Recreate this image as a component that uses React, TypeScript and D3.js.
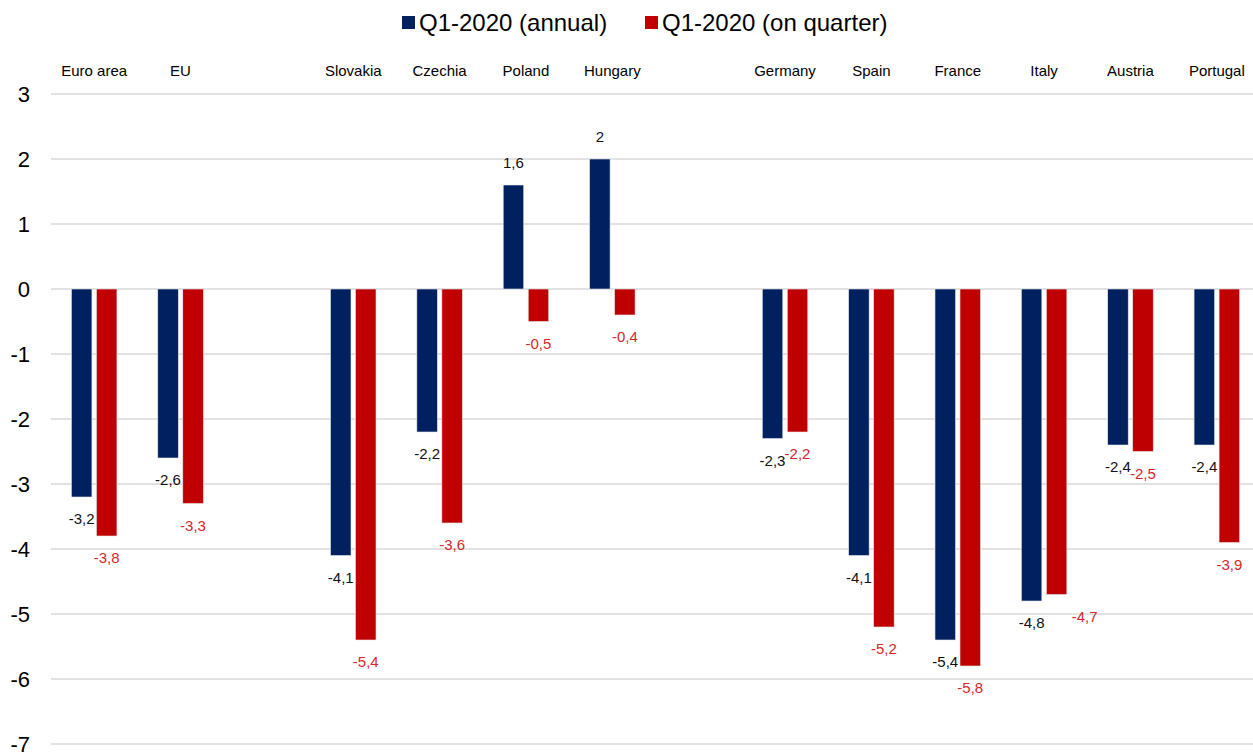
import React from "react";
import * as d3 from "d3";

const categories = [
  "Euro area", "EU",
  "Slovakia", "Czechia", "Poland", "Hungary",
  "Germany", "Spain", "France", "Italy", "Austria", "Portugal",
];
// a blank slot is left before these categories
const gapBefore = ["Slovakia", "Germany"];
const annual = [-3.2, -2.6, -4.1, -2.2, 1.6, 2, -2.3, -4.1, -5.4, -4.8, -2.4, -2.4];
const onQuarter = [-3.8, -3.3, -5.4, -3.6, -0.5, -0.4, -2.2, -5.2, -5.8, -4.7, -2.5, -3.9];
const seriesNames = ["Q1-2020 (annual)", "Q1-2020 (on quarter)"];
const yTicks = [3, 2, 1, 0, -1, -2, -3, -4, -5, -6, -7];

const W = 1253;
const H = 754;
const FONT = "'Liberation Sans', Arial, Helvetica, sans-serif";
const BLUE = "#002060";
const RED = "#c00000";
const RED_LABEL = "#d7262b";

const locale = d3.formatLocale({
  decimal: ",",
  thousands: ".",
  grouping: [3],
  currency: ["", "€"],
  minus: "-",
});
const fmt = locale.format("~g");

// position tweaks for data labels (Excel-style manual nudges)
const quarterLabelShift: Record<string, number> = { Italy: 28 };

export default function App() {
  const slots: string[] = [];
  categories.forEach((c, i) => {
    if (gapBefore.includes(c)) slots.push("__gap" + i);
    slots.push(c);
  });

  const x0 = d3
    .scaleBand<string>()
    .domain(slots)
    .range([51, 1260])
    .paddingInner(0.473)
    .paddingOuter(0.2365);
  const x1 = d3
    .scaleBand<string>()
    .domain(seriesNames)
    .range([0, x0.bandwidth()])
    .paddingInner(0.18);
  const y = d3.scaleLinear().domain([-7, 3]).range([744, 94]);

  const series = [
    { name: seriesNames[0], values: annual, color: BLUE, labelColor: "#111" },
    { name: seriesNames[1], values: onQuarter, color: RED, labelColor: RED_LABEL },
  ];

  return (
    <div style={{ position: "fixed", left: 0, top: 0, width: W, height: H, background: "#fff" }}>
      <svg width={W} height={H} style={{ display: "block", overflow: "hidden" }} fontFamily={FONT}>
        {/* gridlines */}
        {yTicks.map((t) => (
          <line key={"g" + t} x1={51} x2={W} y1={y(t)} y2={y(t)} stroke="#d9d9d9" strokeWidth={1.5} />
        ))}
        {/* y tick labels */}
        {yTicks.map((t) => (
          <text key={"t" + t} x={30} y={y(t)} dy="0.35em" textAnchor="end" fontSize={22} fill="#000">
            {fmt(t)}
          </text>
        ))}
        {/* category labels */}
        {categories.map((c) => (
          <text
            key={"c" + c}
            x={(x0(c) ?? 0) + x0.bandwidth() / 2}
            y={71}
            dy="0.35em"
            textAnchor="middle"
            fontSize={15}
            fill="#000"
          >
            {c}
          </text>
        ))}
        {/* bars */}
        {series.map((s) =>
          categories.map((c, i) => {
            const v = s.values[i];
            const bx = (x0(c) ?? 0) + (x1(s.name) ?? 0);
            const top = Math.min(y(v), y(0));
            const h = Math.abs(y(v) - y(0));
            return (
              <rect
                key={s.name + c}
                x={bx}
                y={top}
                width={x1.bandwidth()}
                height={h}
                fill={s.color}
                stroke="#e4e6ef"
                strokeWidth={0.6}
              />
            );
          })
        )}
        {/* data labels */}
        {series.map((s, si) =>
          categories.map((c, i) => {
            const v = s.values[i];
            const cx =
              (x0(c) ?? 0) + (x1(s.name) ?? 0) + x1.bandwidth() / 2 + (si === 1 ? quarterLabelShift[c] ?? 0 : 0);
            const ly = v >= 0 ? y(v) - 22 : y(v) + 22;
            return (
              <text
                key={"l" + s.name + c}
                x={cx}
                y={ly}
                dy="0.35em"
                textAnchor="middle"
                fontSize={15}
                fill={s.labelColor}
              >
                {fmt(v)}
              </text>
            );
          })
        )}
        {/* legend */}
        <g>
          <rect x={402} y={16} width={13} height={13} fill={BLUE} />
          <text x={419} y={22.5} dy="0.35em" fontSize={24} fill="#000">
            {seriesNames[0]}
          </text>
          <rect x={645} y={16} width={13} height={13} fill={RED} />
          <text x={662} y={22.5} dy="0.35em" fontSize={24} fill="#000">
            {seriesNames[1]}
          </text>
        </g>
      </svg>
    </div>
  );
}
